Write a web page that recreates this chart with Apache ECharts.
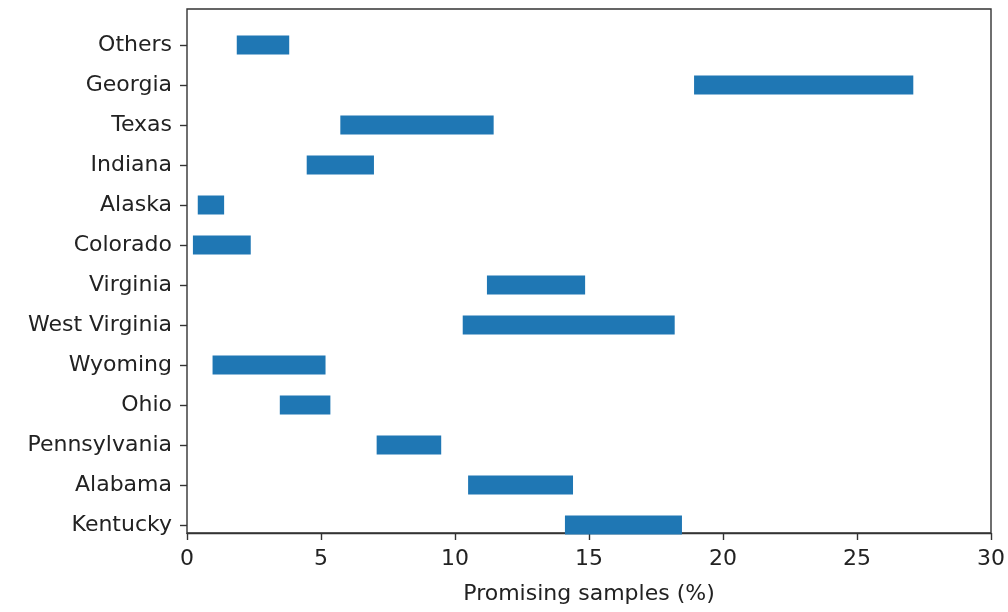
<!DOCTYPE html>
<html>
<head>
<meta charset="utf-8">
<script src="https://cdn.jsdelivr.net/npm/echarts@6/dist/echarts.min.js"></script>
<style>
  html, body { margin: 0; padding: 0; background: #fff; }
  #chart { width: 1008px; height: 612px; }
</style>
</head>
<body>
<div id="chart"></div>
<script>
// Regions, listed bottom to top
const regions = ['Kentucky', 'Alabama', 'Pennsylvania', 'Ohio', 'Wyoming', 'West Virginia',
  'Virginia', 'Colorado', 'Alaska', 'Indiana', 'Texas', 'Georgia', 'Others'];
// Range of promising samples (%) per region
const rangeStart = [14.05, 10.45, 7.05, 3.45, 0.95, 10.25, 11.15, 0.22, 0.4, 4.45, 5.7, 18.85, 1.85];
const rangeEnd   = [18.4, 14.35, 9.45, 5.33, 5.15, 18.13, 14.8, 2.37, 1.38, 6.95, 11.4, 27.0, 3.8];
const xTicks = [0, 5, 10, 15, 20, 25, 30];

const rangeLength = rangeEnd.map((e, i) => +(e - rangeStart[i]).toFixed(4));

const FONT = 'DejaVu Sans';
const TEXT = '#222';
const LINE = '#333';

const chart = echarts.init(document.getElementById('chart'), null, { renderer: 'canvas' });
chart.setOption({
  animation: false,
  backgroundColor: '#fff',
  grid: [
    // frame with the numeric axis
    { left: 187, right: 14, top: 9, bottom: 79, show: true, borderColor: LINE, borderWidth: 1.4, backgroundColor: 'transparent' },
    // row bands for the regions
    { left: 187, right: 14, top: 25, bottom: 67 }
  ],
  xAxis: [
    {
      gridIndex: 0, type: 'value', min: xTicks[0], max: xTicks[xTicks.length - 1], interval: 5,
      axisLine: { show: true, lineStyle: { color: LINE, width: 1.4 } },
      axisTick: { show: true, length: 7, inside: false, lineStyle: { color: LINE, width: 1.4 } },
      axisLabel: { fontFamily: FONT, fontSize: 22, color: TEXT, margin: 15 },
      splitLine: { show: false },
      name: 'Promising samples (%)', nameLocation: 'middle', nameGap: 50,
      nameTextStyle: { fontFamily: FONT, fontSize: 22, color: TEXT }
    },
    {
      gridIndex: 1, type: 'value', min: xTicks[0], max: xTicks[xTicks.length - 1],
      show: false, splitLine: { show: false }
    }
  ],
  yAxis: [
    { gridIndex: 0, type: 'value', min: 0, max: 1, show: false, splitLine: { show: false } },
    {
      gridIndex: 1, type: 'category', data: regions, boundaryGap: true,
      axisLine: { show: false },
      axisTick: { show: true, alignWithLabel: true, length: 7, lineStyle: { color: LINE, width: 1.4 } },
      axisLabel: { fontFamily: FONT, fontSize: 22, color: TEXT, margin: 15 },
      splitLine: { show: false }
    }
  ],
  series: [
    {
      type: 'bar', xAxisIndex: 1, yAxisIndex: 1, stack: 'range',
      data: rangeStart, barWidth: 19, silent: true,
      itemStyle: { color: 'transparent' }
    },
    {
      type: 'bar', xAxisIndex: 1, yAxisIndex: 1, stack: 'range',
      data: rangeLength, barWidth: 19,
      itemStyle: { color: '#1f77b4' }
    }
  ]
});
</script>
</body>
</html>
